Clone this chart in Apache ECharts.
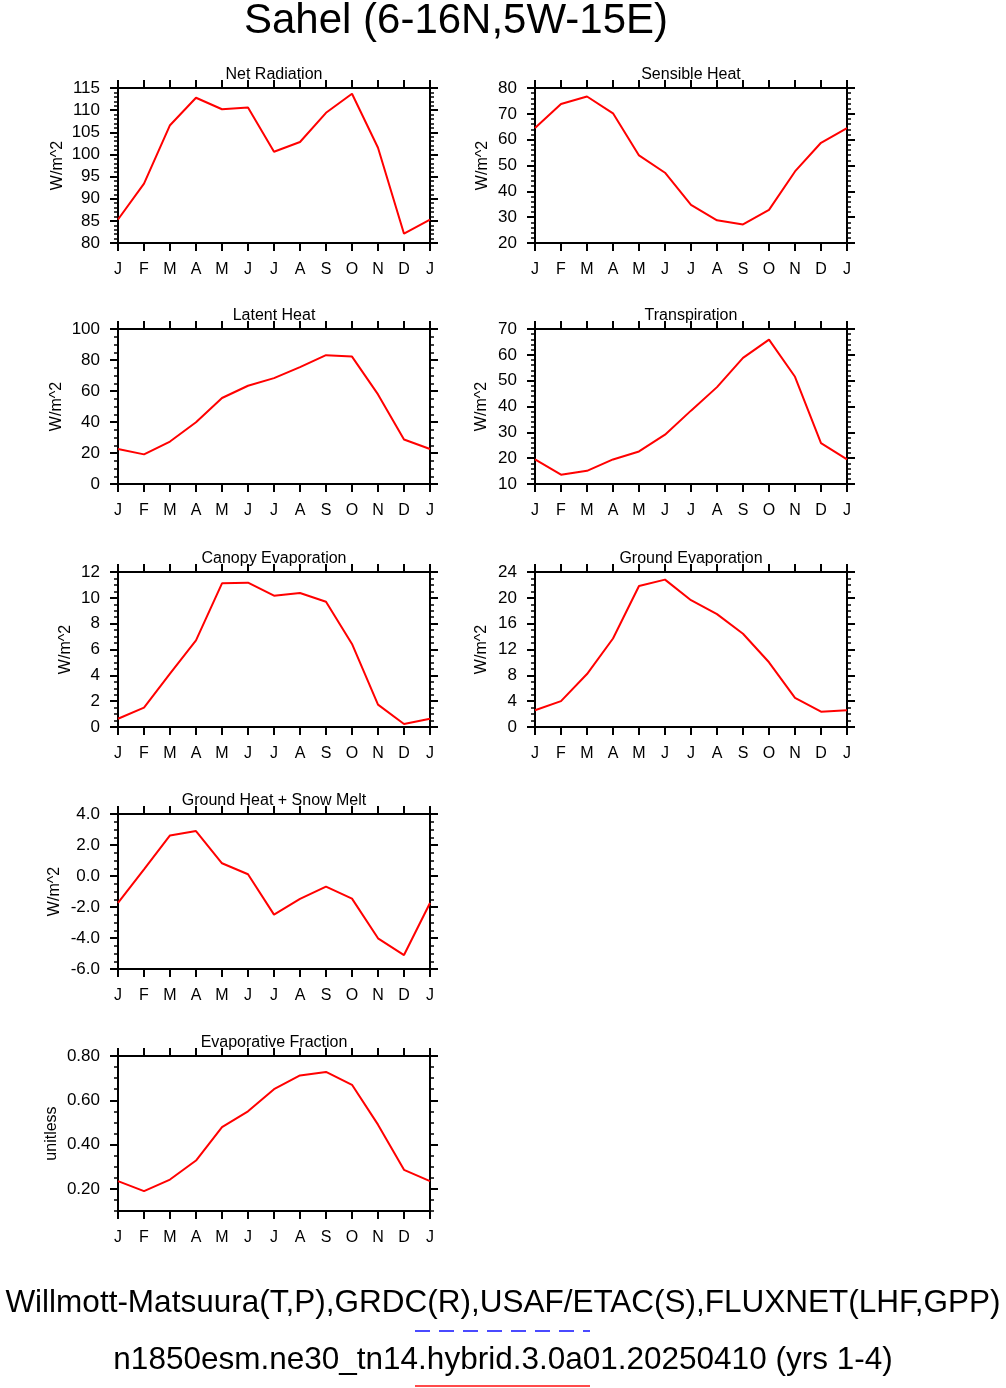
<!DOCTYPE html>
<html>
<head>
<meta charset="utf-8">
<title>Sahel</title>
<style>
  html, body { margin: 0; padding: 0; background: #fff; }
  #big { width: 1006px; height: 1388px; }
</style>
</head>
<body>
<div id="big"></div>
<script src="https://cdn.jsdelivr.net/npm/echarts@6/dist/echarts.min.js"></script>
<script>
// month tick labels (J .. J, 13 points)
var MONTHS = ['J', 'F', 'M', 'A', 'M', 'J', 'J', 'A', 'S', 'O', 'N', 'D', 'J'];

// series values, one per panel
var NET_RAD     = [85.3, 93.4, 106.6, 112.8, 110.2, 110.6, 100.6, 102.8, 109.4, 113.7, 101.5, 82.1, 85.3];
var SENS_HEAT   = [64.5, 73.8, 76.7, 70.2, 53.9, 47.2, 34.8, 28.8, 27.2, 32.8, 47.7, 58.8, 64.5];
var LAT_HEAT    = [22.6, 19.1, 27.4, 39.8, 55.5, 63.4, 68.3, 75.4, 83.1, 82.2, 57.8, 28.7, 22.6];
var TRANSP      = [19.5, 13.6, 15.1, 19.5, 22.6, 29.1, 38.4, 47.5, 58.8, 65.9, 51.5, 25.8, 19.5];
var CANOPY_EV   = [0.64, 1.5, 4.13, 6.71, 11.12, 11.17, 10.17, 10.37, 9.7, 6.43, 1.73, 0.23, 0.64];
var GROUND_EV   = [2.6, 4.0, 8.2, 13.7, 21.84, 22.82, 19.63, 17.47, 14.44, 10.02, 4.52, 2.37, 2.6];
var GROUND_HEAT = [-1.74, 0.43, 2.62, 2.9, 0.82, 0.11, -2.49, -1.48, -0.69, -1.46, -4.02, -5.1, -1.74];
var EVAP_FRAC   = [0.235, 0.19, 0.242, 0.328, 0.479, 0.55, 0.65, 0.712, 0.728, 0.67, 0.49, 0.286, 0.235];

var TITLES = ['Net Radiation', 'Sensible Heat', 'Latent Heat', 'Transpiration',
              'Canopy Evaporation', 'Ground Evaporation', 'Ground Heat + Snow Melt', 'Evaporative Fraction'];
var UNITS = ['W/m^2', 'W/m^2', 'W/m^2', 'W/m^2', 'W/m^2', 'W/m^2', 'W/m^2', 'unitless'];
var VALUES = [NET_RAD, SENS_HEAT, LAT_HEAT, TRANSP, CANOPY_EV, GROUND_EV, GROUND_HEAT, EVAP_FRAC];

// y scales: min, max, first labelled tick, major step, minor step, decimals
var Y_MIN   = [80, 20, 0, 10, 0, 0, -6, 0.1];
var Y_MAX   = [115, 80, 100, 70, 12, 24, 4, 0.8];
var Y_FIRST = [80, 20, 0, 10, 0, 0, -6, 0.2];
var Y_MAJOR = [5, 10, 20, 10, 2, 4, 2, 0.2];
var Y_MINOR = [1, 2, 5, 2, 0.5, 1, 0.5, 0.05];
var Y_DEC   = [0, 0, 0, 0, 0, 0, 1, 2];

var FONT = 'Liberation Sans';
var COL_LEFT = [118, 535];
var ROW_TOP = [88, 329, 572, 814, 1056];
var PW = 312, PH = 155;
// panel slot: [column, row]
var SLOT = [[0, 0], [1, 0], [0, 1], [1, 1], [0, 2], [1, 2], [0, 3], [0, 4]];
var NAME_GAP = [52, 44, 53, 45, 44, 45, 55, 58];

var myEcharts = echarts.init(document.getElementById('big'), null, { renderer: 'canvas' });

var grids = [], xAxes = [], yAxes = [], series = [], titles = [];

titles.push({
    text: 'Sahel (6-16N,5W-15E)',
    left: 451, top: -5, textAlign: 'center',
    textStyle: { fontFamily: FONT, fontSize: 42, fontWeight: 'normal', color: '#000' }
});

function majorTicks(i) {
    var out = [];
    var n = Math.round((Y_MAX[i] - Y_FIRST[i]) / Y_MAJOR[i]);
    for (var k = 0; k <= n; k++) out.push(+(Y_FIRST[i] + k * Y_MAJOR[i]).toFixed(6));
    return out;
}

VALUES.forEach(function (vals, i) {
    var left = COL_LEFT[SLOT[i][0]];
    var top = ROW_TOP[SLOT[i][1]];
    grids.push({ left: left, top: top, width: PW, height: PH });

    titles.push({
        text: TITLES[i],
        left: left + PW / 2 - 5, top: top - 26, textAlign: 'center',
        textStyle: { fontFamily: FONT, fontSize: 16, fontWeight: 'normal', color: '#000' }
    });

    var lineSt = { show: true, onZero: false, lineStyle: { color: '#000', width: 2 } };
    ['bottom', 'top'].forEach(function (pos) {
        xAxes.push({
            type: 'category', gridIndex: i, position: pos, data: MONTHS, boundaryGap: false,
            axisLine: lineSt,
            axisTick: { show: true, inside: false, length: 8, lineStyle: { color: '#000', width: 2 } },
            axisLabel: {
                show: pos === 'bottom', interval: 0, margin: 19,
                fontFamily: FONT, fontSize: 16, color: '#000'
            },
            splitLine: { show: false }
        });
    });

    var majors = majorTicks(i);
    var base = yAxes.length;
    ['left', 'right'].forEach(function (pos) {
        // minor ticks axis (carries the data)
        yAxes.push({
            type: 'value', gridIndex: i, position: pos,
            min: Y_MIN[i], max: Y_MAX[i], interval: Y_MINOR[i],
            axisLine: lineSt,
            axisTick: { show: true, inside: false, length: 4, lineStyle: { color: '#000', width: 1.5 } },
            axisLabel: { show: false },
            splitLine: { show: false }
        });
        // major ticks and labels
        yAxes.push({
            type: 'value', gridIndex: i, position: pos,
            min: Y_MIN[i], max: Y_MAX[i],
            name: pos === 'left' ? UNITS[i] : '',
            nameLocation: 'middle', nameGap: NAME_GAP[i],
            nameTextStyle: { fontFamily: FONT, fontSize: 16, color: '#000' },
            axisLine: { show: false, onZero: false },
            axisTick: { show: true, inside: false, length: 8, customValues: majors,
                        lineStyle: { color: '#000', width: 2 } },
            axisLabel: {
                show: pos === 'left', customValues: majors, margin: 18,
                fontFamily: FONT, fontSize: 17, color: '#000',
                formatter: function (v) { return Number(v).toFixed(Y_DEC[i]); }
            },
            splitLine: { show: false }
        });
    });

    series.push({
        type: 'line', xAxisIndex: i * 2, yAxisIndex: base,
        data: vals, symbol: 'none', smooth: false,
        lineStyle: { color: '#ff0000', width: 2 },
        animation: false, silent: true
    });
});

var options = {
    backgroundColor: '#fff',
    animation: false,
    title: titles,
    grid: grids,
    xAxis: xAxes,
    yAxis: yAxes,
    series: series,
    graphic: [
        {
            type: 'text', left: 'center', top: 1287,
            style: {
                text: 'Willmott-Matsuura(T,P),GRDC(R),USAF/ETAC(S),FLUXNET(LHF,GPP)',
                font: '31.5px "Liberation Sans"', fill: '#000'
            }
        },
        {
            type: 'line', shape: { x1: 415, y1: 1331, x2: 590, y2: 1331 },
            style: { stroke: '#4a4aff', lineWidth: 2, lineDash: [15, 9] }
        },
        {
            type: 'text', left: 'center', top: 1344,
            style: {
                text: 'n1850esm.ne30_tn14.hybrid.3.0a01.20250410 (yrs 1-4)',
                font: '31.5px "Liberation Sans"', fill: '#000'
            }
        },
        {
            type: 'line', shape: { x1: 415, y1: 1386, x2: 590, y2: 1386 },
            style: { stroke: '#ff4a4a', lineWidth: 2 }
        }
    ]
};
myEcharts.setOption(options);
</script>
</body>
</html>
